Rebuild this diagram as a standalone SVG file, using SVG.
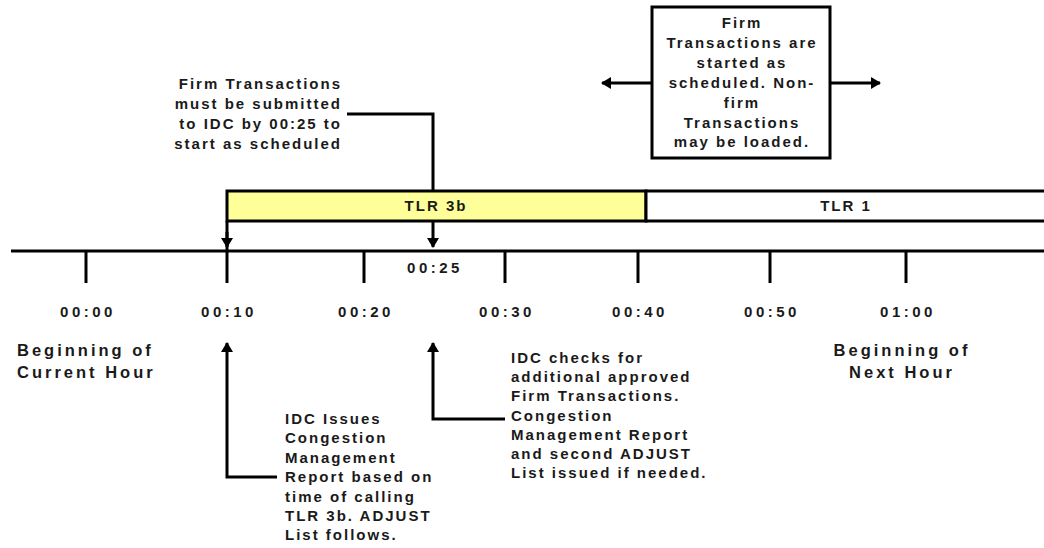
<svg xmlns="http://www.w3.org/2000/svg" width="1044" height="548" viewBox="0 0 1044 548">
  <style>
    text { font-family: "Liberation Sans", Arial, sans-serif; font-weight: bold; font-size: 15px; letter-spacing: 2px; fill: #1a1a1a; }
    .time { letter-spacing: 3.5px; text-anchor: middle; }
    .big { font-size: 16.5px; letter-spacing: 3px; }
    .mid { text-anchor: middle; }
    .end { text-anchor: end; }
    .ln { stroke: #000; stroke-width: 3; fill: none; }
  </style>
  <defs>
    <marker id="head" viewBox="0 0 10 12" refX="9" refY="6" markerWidth="10" markerHeight="12" markerUnits="userSpaceOnUse" orient="auto">
      <path d="M0,0 L10,6 L0,12 Z" fill="#000"/>
    </marker>
  </defs>

  <!-- TLR bar -->
  <g id="tlr-3b">
    <rect x="227" y="191" width="419" height="30" fill="#ffff99" stroke="#000" stroke-width="3"/>
    <text x="436" y="211" class="mid">TLR 3b</text>
  </g>
  <g id="tlr-1">
    <rect x="646" y="191" width="410" height="30" fill="#fff" stroke="#000" stroke-width="3"/>
    <text x="846" y="211" class="mid">TLR 1</text>
  </g>

  <!-- time axis -->
  <g id="timeline">
    <line class="ln" x1="11" y1="251" x2="1044" y2="251"/>
    <line class="ln" x1="86" y1="251" x2="86" y2="283"/>
    <line class="ln" x1="227" y1="221" x2="227" y2="283"/>
    <line class="ln" x1="364" y1="251" x2="364" y2="283"/>
    <line class="ln" x1="505" y1="251" x2="505" y2="283"/>
    <line class="ln" x1="638" y1="251" x2="638" y2="283"/>
    <line class="ln" x1="770" y1="251" x2="770" y2="283"/>
    <line class="ln" x1="906" y1="251" x2="906" y2="283"/>
    <text x="435" y="273" class="time">00:25</text>
    <text x="88" y="317" class="time">00:00</text>
    <text x="229" y="317" class="time">00:10</text>
    <text x="366" y="317" class="time">00:20</text>
    <text x="507" y="317" class="time">00:30</text>
    <text x="640" y="317" class="time">00:40</text>
    <text x="772" y="317" class="time">00:50</text>
    <text x="908" y="317" class="time">01:00</text>
  </g>

  <g id="hour-start">
    <text x="17" y="356" class="big">Beginning of</text>
    <text x="17" y="378" class="big">Current Hour</text>
  </g>
  <g id="hour-next">
    <text x="902" y="356" class="big mid">Beginning of</text>
    <text x="902" y="378" class="big mid">Next Hour</text>
  </g>

  <!-- submission deadline note -->
  <g id="note-deadline">
    <text x="342" y="89" class="end">Firm Transactions</text>
    <text x="342" y="109" class="end">must be submitted</text>
    <text x="342" y="129" class="end">to IDC by 00:25 to</text>
    <text x="342" y="149" class="end">start as scheduled</text>
  </g>

  <!-- start-of-transactions box -->
  <g id="note-start">
    <rect x="652" y="7" width="178" height="151" fill="#fff" stroke="#000" stroke-width="3"/>
    <text x="742" y="28" class="mid">Firm</text>
    <text x="742" y="48" class="mid">Transactions are</text>
    <text x="742" y="68" class="mid">started as</text>
    <text x="742" y="88" class="mid">scheduled. Non-</text>
    <text x="742" y="108" class="mid">firm</text>
    <text x="742" y="128" class="mid">Transactions</text>
    <text x="742" y="147" class="mid">may be loaded.</text>
  </g>

  <g id="note-issue">
    <text x="285" y="424">IDC Issues</text>
    <text x="285" y="443">Congestion</text>
    <text x="285" y="463">Management</text>
    <text x="285" y="482">Report based on</text>
    <text x="285" y="502">time of calling</text>
    <text x="285" y="521">TLR 3b. ADJUST</text>
    <text x="285" y="540">List follows.</text>
  </g>

  <g id="note-check">
    <text x="511" y="363">IDC checks for</text>
    <text x="511" y="382">additional approved</text>
    <text x="511" y="401">Firm Transactions.</text>
    <text x="511" y="421">Congestion</text>
    <text x="511" y="440">Management Report</text>
    <text x="511" y="459">and second ADJUST</text>
    <text x="511" y="478">List issued if needed.</text>
  </g>

  <!-- connectors -->
  <g id="connectors">
    <polyline class="ln" points="347,114 433,114 433,191"/>
    <line class="ln" x1="433" y1="221" x2="433" y2="247" marker-end="url(#head)"/>
    <line class="ln" x1="227" y1="232" x2="227" y2="247" marker-end="url(#head)"/>
    <polyline class="ln" points="277,477 227,477 227,343" marker-end="url(#head)"/>
    <polyline class="ln" points="505,419 433,419 433,343" marker-end="url(#head)"/>
    <line class="ln" x1="652" y1="83" x2="602" y2="83" marker-end="url(#head)"/>
    <line class="ln" x1="830" y1="83" x2="880" y2="83" marker-end="url(#head)"/>
  </g>
</svg>
